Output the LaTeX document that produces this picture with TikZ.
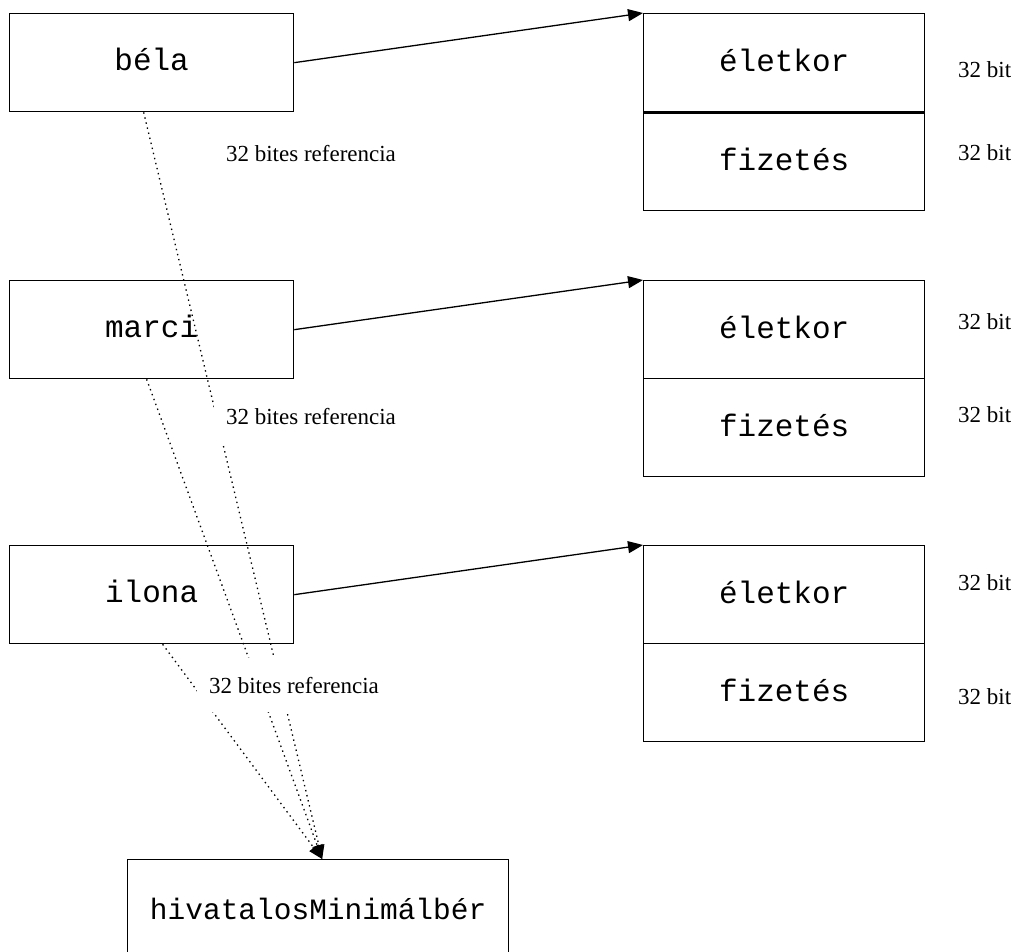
\documentclass[tikz,border=0pt]{standalone}
\usepackage{fontspec}
\setmainfont{Liberation Serif}
\setmonofont{Liberation Mono}
\usetikzlibrary{arrows.meta,calc}
\begin{document}
\begin{tikzpicture}[x=1pt,y=-1pt,
  box/.style={draw=black,line width=1.3pt,inner sep=0pt,anchor=north west,
    minimum width=284pt,minimum height=98pt,font=\ttfamily\fontsize{31}{31}\selectfont,
    text height=15pt,text depth=0pt},
  cell/.style={draw=black,line width=1.3pt,inner sep=0pt,anchor=north west,
    minimum width=281pt,minimum height=98pt,font=\ttfamily\fontsize{31}{31}\selectfont,
    text height=17pt,text depth=0pt},
  ref/.style={-{Triangle[length=15pt,width=12pt]},line width=1.3pt},
  dots/.style={line width=1.3pt,dash pattern=on 1.4pt off 3.8pt,
    -{Triangle[length=14pt,width=11pt]}},
  refl/.style={fill=white,inner xsep=12pt,inner ysep=19pt,
    font=\fontsize{23}{23}\selectfont,anchor=base},
  bitl/.style={anchor=base west,inner sep=0pt,font=\fontsize{23}{23}\selectfont}]
\useasboundingbox (0,0) rectangle (1019,951);

% left boxes
\node[box] (bela) at (9,13) {béla};
\node[box] (marci) at (9,280) {marci};
\node[box] (ilona) at (9,545) {ilona};
\node[box,minimum width=381pt,minimum height=104pt,font=\ttfamily\fontsize{29.5}{29.5}\selectfont] (hiv) at (127,859) {hivatalosMinimálbér};

% records
\node[cell] (r1a) at (643,13) {életkor};
\node[cell] (r1b) at (643,112) {fizetés};
\draw[line width=2.8pt] (r1a.south west) -- (r1a.south east);
\node[cell] (r2a) at (643,280) {életkor};
\node[cell] (r2b) at (643,378) {fizetés};
\node[cell] (r3a) at (643,545) {életkor};
\node[cell] (r3b) at (643,643) {fizetés};

% bit labels
\node[bitl] (b1a) at (958,77) {32 bit};
\node[bitl] (b1b) at (958,160) {32 bit};
\node[bitl] (b2a) at (958,329) {32 bit};
\node[bitl] (b2b) at (958,422) {32 bit};
\node[bitl] (b3a) at (958,590) {32 bit};
\node[bitl] (b3b) at (958,704) {32 bit};

% reference arrows
\draw[ref] (bela.east) -- (r1a.north west);
\draw[ref] (marci.east) -- (r2a.north west);
\draw[ref] (ilona.east) -- (r3a.north west);

% dotted static references
\draw[dots] ([xshift=-8pt]bela.south) -- ([xshift=4pt]hiv.north);
\draw[dots] ([xshift=-5pt]marci.south) -- ([xshift=4pt]hiv.north);
\draw[dots] ([xshift=11pt]ilona.south) -- ([xshift=4pt]hiv.north);

% reference labels
\node[refl] (l1) at (311,161) {32 bites referencia};
\node[refl] (l2) at (311,424) {32 bites referencia};
\node[refl] (l3) at (294,693) {32 bites referencia};
\end{tikzpicture}
\end{document}
